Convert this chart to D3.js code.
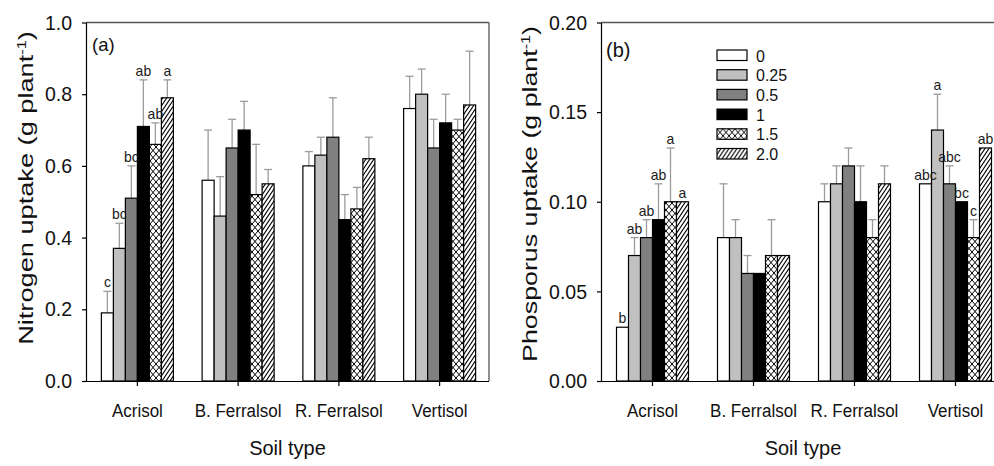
<!DOCTYPE html>
<html>
<head>
<meta charset="utf-8">
<script src="https://cdn.jsdelivr.net/npm/d3@7"></script>
<style>
  html, body { margin: 0; padding: 0; background: #fff; }
  svg { display: block; font-family: "Liberation Sans", Arial, sans-serif; }
</style>
</head>
<body>
<svg id="chart" width="994" height="466"></svg>
<script>
// Soil types and lime/amendment rates
const soils = ["Acrisol", "B. Ferralsol", "R. Ferralsol", "Vertisol"];
const rates = ["0", "0.25", "0.5", "1", "1.5", "2.0"];

// Nitrogen uptake (g plant-1): mean and upper error per soil x rate
const nMean = [
  [0.19, 0.37, 0.51, 0.71, 0.66, 0.79],
  [0.56, 0.46, 0.65, 0.70, 0.52, 0.55],
  [0.60, 0.63, 0.68, 0.45, 0.48, 0.62],
  [0.76, 0.80, 0.65, 0.72, 0.70, 0.77]
];
const nErr = [
  [0.06, 0.07, 0.09, 0.13, 0.06, 0.05],
  [0.14, 0.11, 0.08, 0.08, 0.14, 0.04],
  [0.04, 0.05, 0.11, 0.07, 0.06, 0.06],
  [0.09, 0.07, 0.08, 0.08, 0.03, 0.15]
];
const nLetters = [
  ["c", "bc", "bc", "ab", "ab", "a"],
  ["", "", "", "", "", ""],
  ["", "", "", "", "", ""],
  ["", "", "", "", "", ""]
];

// Phosphorus uptake (g plant-1)
const pMean = [
  [0.03, 0.07, 0.08, 0.09, 0.10, 0.10],
  [0.08, 0.08, 0.06, 0.06, 0.07, 0.07],
  [0.10, 0.11, 0.12, 0.10, 0.08, 0.11],
  [0.11, 0.14, 0.11, 0.10, 0.08, 0.13]
];
const pErr = [
  [0.00, 0.01, 0.01, 0.02, 0.03, 0.00],
  [0.03, 0.01, 0.01, 0.00, 0.02, 0.00],
  [0.01, 0.01, 0.01, 0.02, 0.01, 0.01],
  [0.00, 0.02, 0.01, 0.00, 0.01, 0.00]
];
const pLetters = [
  ["b", "ab", "ab", "ab", "a", "a"],
  ["", "", "", "", "", ""],
  ["", "", "", "", "", ""],
  ["abc", "a", "abc", "bc", "c", "ab"]
];

const nTicks = [0, 0.2, 0.4, 0.6, 0.8, 1.0];
const pTicks = [0, 0.05, 0.10, 0.15, 0.20];

const svg = d3.select("#chart");
const defs = svg.append("defs");

// Fill patterns for the 1.5 (cross-hatch) and 2.0 (diagonal) rates
const cross = defs.append("pattern").attr("id", "crossHatch")
  .attr("patternUnits", "userSpaceOnUse").attr("width", 6).attr("height", 7);
cross.append("rect").attr("width", 6).attr("height", 7).attr("fill", "#fff");
cross.append("path").attr("d", "M0,0L6,7M6,0L0,7")
  .attr("stroke", "#000").attr("stroke-width", 1).attr("fill", "none");

const diag = defs.append("pattern").attr("id", "diagHatch")
  .attr("patternUnits", "userSpaceOnUse").attr("width", 4).attr("height", 6);
diag.append("rect").attr("width", 4).attr("height", 6).attr("fill", "#fff");
diag.append("path").attr("d", "M-1,7.5L5,-1.5M-1,1.5L1,-1.5M3,7.5L5,4.5")
  .attr("stroke", "#000").attr("stroke-width", 1.1).attr("fill", "none");

const fills = ["#ffffff", "#c0c0c0", "#808080", "#000000", "url(#crossHatch)", "url(#diagHatch)"];
const fillScale = d3.scaleOrdinal().domain(rates).range(fills);

const FONT = "Liberation Sans, Arial, sans-serif";

function drawPanel(cfg) {
  const g = svg.append("g");
  const x = d3.scaleBand().domain(soils).range([cfg.x0 + 1, cfg.x1 + 1]).padding(0);
  const inner = d3.scaleBand().domain(rates).range([-36, 36]).padding(0);
  const y = d3.scaleLinear().domain(cfg.domain).range([cfg.yBottom, cfg.yTop]);

  // Frame: top and right edges
  g.append("line").attr("x1", cfg.x0).attr("x2", cfg.x1).attr("y1", cfg.yTop).attr("y2", cfg.yTop)
    .attr("stroke", "#555").attr("stroke-width", 1.3);
  g.append("line").attr("x1", cfg.x1).attr("x2", cfg.x1).attr("y1", cfg.yTop).attr("y2", cfg.yBottom)
    .attr("stroke", "#555").attr("stroke-width", 1.3);

  const rows = [];
  cfg.mean.forEach((arr, i) => arr.forEach((v, j) => {
    rows.push({ soil: soils[i], rate: rates[j], v: v, e: cfg.err[i][j], lab: cfg.letters[i][j] });
  }));
  const cx = d => x(d.soil) + x.bandwidth() / 2 + inner(d.rate);

  // Error bars (upper only)
  const eb = g.append("g").attr("stroke", "#9c9c9c").attr("stroke-width", 1.3);
  rows.filter(d => d.e > 0).forEach(d => {
    const mx = cx(d) + inner.bandwidth() / 2;
    eb.append("line").attr("x1", mx).attr("x2", mx).attr("y1", y(d.v)).attr("y2", y(d.v + d.e));
    eb.append("line").attr("x1", mx - 4).attr("x2", mx + 4).attr("y1", y(d.v + d.e)).attr("y2", y(d.v + d.e));
  });

  // Bars
  g.append("g").selectAll("rect").data(rows).join("rect")
    .attr("x", d => cx(d))
    .attr("y", d => y(d.v))
    .attr("width", inner.bandwidth())
    .attr("height", d => y(0) - y(d.v))
    .attr("fill", d => fillScale(d.rate))
    .attr("stroke", "#000").attr("stroke-width", 1.2);

  // Significance letters
  g.append("g").selectAll("text").data(rows.filter(d => d.lab)).join("text")
    .attr("transform", d => `translate(${cx(d) + inner.bandwidth() / 2},${y(d.v + d.e) - 4}) scale(1,1.08)`)
    .attr("text-anchor", "middle")
    .attr("font-size", 14).attr("fill", "#1a1a1a")
    .text(d => d.lab);

  // Axes
  const yAxis = d3.axisLeft(y).tickValues(cfg.ticks).tickFormat(d3.format(cfg.fmt))
    .tickSize(4).tickSizeOuter(0).tickPadding(10);
  const ga = g.append("g").attr("transform", `translate(${cfg.x0},0)`).call(yAxis);
  ga.selectAll("text").attr("font-size", 19.5).attr("fill", "#111").attr("font-family", FONT)
    .attr("transform", "scale(1,1.07)");
  ga.selectAll("line, path").attr("stroke", "#000").attr("stroke-width", 1.2);

  const xAxis = d3.axisBottom(x).tickSize(5).tickSizeOuter(0).tickPadding(17);
  const gx = g.append("g").attr("transform", `translate(0,${cfg.yBottom})`).call(xAxis);
  gx.select(".domain").attr("d", `M${cfg.x0 - 4},0.5H${cfg.x1}`);
  gx.selectAll("text").attr("font-size", 17).attr("fill", "#111").attr("font-family", FONT)
    .attr("transform", "scale(1,1.06)");
  gx.selectAll("line, path").attr("stroke", "#000").attr("stroke-width", 1.2);

  // Axis titles
  g.append("text").attr("x", cfg.xTitleX).attr("y", 455)
    .attr("text-anchor", "middle").attr("font-size", 20).attr("fill", "#111")
    .text("Soil type");

  const yt = g.append("text")
    .attr("transform", `translate(${cfg.yTitleX},${cfg.yTitleY}) rotate(-90) scale(${cfg.yTitleStretch},1)`)
    .attr("text-anchor", "middle").attr("font-size", 20).attr("fill", "#111");
  yt.append("tspan").text(cfg.yTitle + " (g plant");
  yt.append("tspan").attr("dy", -7).attr("font-size", 12).text("-1");
  yt.append("tspan").attr("dy", 7).text(")");

  // Panel tag
  g.append("text").attr("x", cfg.tagX).attr("y", cfg.tagY)
    .attr("font-size", cfg.tagSize).attr("fill", "#111").text(cfg.tag);

  return { x, y };
}

drawPanel({
  x0: 86, x1: 489, yTop: 22.5, yBottom: 381, domain: [0, 1.0],
  ticks: nTicks, fmt: ".1f", mean: nMean, err: nErr, letters: nLetters,
  yTitle: "Nitrogen uptake", yTitleX: 32.5, yTitleY: 188, yTitleStretch: 1.36,
  xTitleX: 287.5, tag: "(a)", tagX: 92, tagY: 51, tagSize: 18.5
});

drawPanel({
  x0: 601, x1: 1005, yTop: 22.5, yBottom: 381, domain: [0, 0.20],
  ticks: pTicks, fmt: ".2f", mean: pMean, err: pErr, letters: pLetters,
  yTitle: "Phosporus uptake", yTitleX: 536.5, yTitleY: 194, yTitleStretch: 1.34,
  xTitleX: 803, tag: "(b)", tagX: 606, tagY: 57, tagSize: 20
});

// Legend for amendment rates
const legend = svg.append("g").attr("transform", "translate(717,50)");
const items = legend.selectAll("g").data(rates).join("g")
  .attr("transform", (d, i) => `translate(0,${i * 19.7})`);
items.append("rect").attr("width", 30).attr("height", 10.5)
  .attr("fill", d => fillScale(d)).attr("stroke", "#000").attr("stroke-width", 1.2);
items.append("text").attr("x", 39).attr("y", 11.5)
  .attr("font-size", 16).attr("fill", "#111").text(d => d);
</script>
</body>
</html>
